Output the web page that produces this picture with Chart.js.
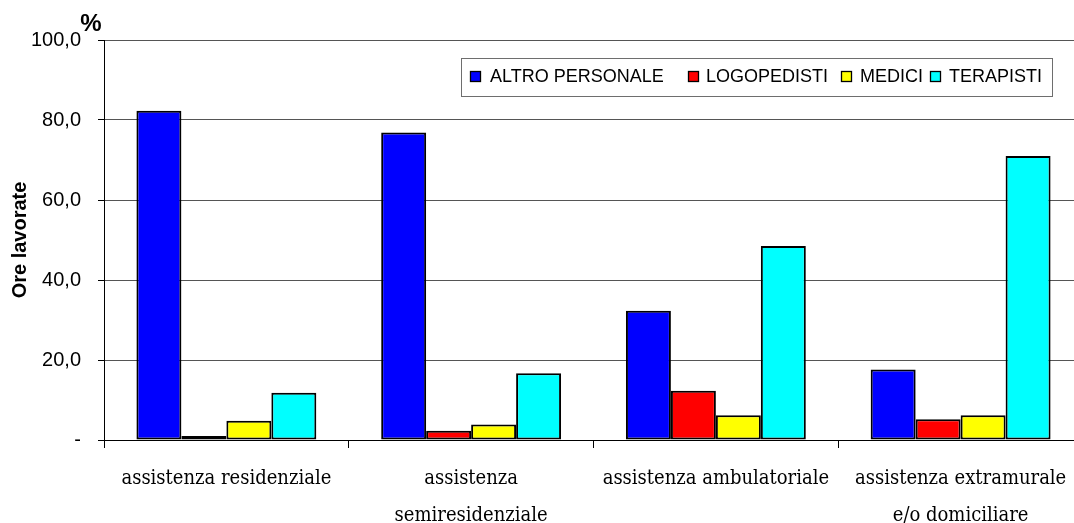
<!DOCTYPE html>
<html>
<head>
<meta charset="utf-8">
<script src="https://cdn.jsdelivr.net/npm/chart.js@4/dist/chart.umd.min.js"></script>
<style>
  html, body { margin: 0; padding: 0; background: #fff; overflow: hidden; }
  #wrap { width: 1090px; height: 523px; position: relative; }
</style>
</head>
<body>
<div id="wrap"><canvas id="c" width="1090" height="523"></canvas></div>
<script>
// Categories (multi-line labels) and series
const categories = [
  ['assistenza residenziale'],
  ['assistenza', 'semiresidenziale'],
  ['assistenza ambulatoriale'],
  ['assistenza extramurale', 'e/o domiciliare']
];
const seriesNames = ['ALTRO PERSONALE', 'LOGOPEDISTI', 'MEDICI', 'TERAPISTI'];
const altroPersonale = [82.3, 76.9, 32.3, 17.6];
const logopedisti    = [1.0, 2.3, 12.3, 5.2];
const medici         = [4.8, 3.9, 6.2, 6.2];
const terapisti      = [11.8, 16.7, 48.5, 71.0];
const yMin = 0, yMax = 100, yStep = 20;
const yTitle = 'Ore lavorate';
const unitMark = '%';

const colors = ['#0000FF', '#FF0000', '#FFFF00', '#00FFFF'];
const seriesValues = [altroPersonale, logopedisti, medici, terapisti];

// Boxed legend drawn inside the plot area, plus the unit mark above the axis
const extrasPlugin = {
  id: 'extras',
  afterDraw(chart) {
    const ctx = chart.ctx;
    ctx.save();
    // unit mark
    ctx.fillStyle = '#000';
    ctx.font = 'bold 24px "Liberation Sans", Arial, sans-serif';
    ctx.textAlign = 'center';
    ctx.textBaseline = 'middle';
    ctx.fillText(unitMark, 91, 24);

    // legend frame
    const bx = 461.5, by = 58.5, bw = 591, bh = 38;
    ctx.fillStyle = '#fff';
    ctx.fillRect(bx, by, bw, bh);
    ctx.strokeStyle = '#6e6e6e';
    ctx.lineWidth = 1;
    ctx.strokeRect(bx, by, bw, bh);

    // legend items
    const squareX = [470, 688, 841, 930];
    const textX = [490, 706, 860, 949];
    ctx.font = '18px "Liberation Sans", Arial, sans-serif';
    ctx.textAlign = 'left';
    ctx.textBaseline = 'middle';
    chart.data.datasets.forEach((ds, i) => {
      const sx = squareX[i];
      ctx.fillStyle = ds.backgroundColor;
      ctx.fillRect(sx + 0.5, 71.5, 10, 10);
      ctx.strokeStyle = '#000';
      ctx.lineWidth = 1.3;
      ctx.strokeRect(sx + 0.5, 71.5, 10, 10);
      ctx.fillStyle = '#000';
      ctx.fillText(ds.label, textX[i], 77);
    });
    ctx.restore();
  }
};

new Chart(document.getElementById('c'), {
  type: 'bar',
  data: {
    labels: categories,
    datasets: seriesNames.map((name, i) => ({
      label: name,
      data: seriesValues[i],
      backgroundColor: colors[i],
      borderColor: '#000',
      borderWidth: 2,
      borderSkipped: false
    }))
  },
  options: {
    responsive: false,
    devicePixelRatio: 1,
    animation: false,
    layout: { padding: { top: 40, right: 7, left: 0, bottom: 0 } },
    datasets: { bar: { categoryPercentage: 0.735, barPercentage: 1.0 } },
    plugins: {
      legend: { display: false },
      tooltip: { enabled: false }
    },
    scales: {
      x: {
        offset: true,
        grid: {
          display: true,
          offset: true,
          drawOnChartArea: false,
          drawTicks: true,
          tickLength: 8,
          color: '#000'
        },
        border: { display: true, color: '#000', width: 1 },
        ticks: {
          color: '#000',
          padding: 12,
          maxRotation: 0,
          autoSkip: false,
          font: { family: '"DejaVu Serif Condensed", "DejaVu Serif", "Liberation Serif", serif', size: 20, lineHeight: 1.85 }
        },
        afterFit(scale) { scale.height = 83; }
      },
      y: {
        min: yMin,
        max: yMax,
        grid: {
          color: '#555',
          lineWidth: 1,
          drawTicks: true,
          tickLength: 6,
          tickColor: '#000'
        },
        border: { display: true, color: '#000', width: 1 },
        ticks: {
          stepSize: yStep,
          color: '#000',
          padding: 17,
          font: { family: '"Liberation Sans", Arial, sans-serif', size: 20 },
          callback: (v) => v === 0 ? '-' : v.toFixed(1).replace('.', ',')
        },
        title: {
          display: true,
          text: yTitle,
          color: '#000',
          padding: { top: 8, bottom: 0 },
          font: { family: '"Liberation Sans", Arial, sans-serif', size: 20, weight: 'bold' }
        },
        afterFit(scale) { scale.width = 104; }
      }
    }
  },
  plugins: [extrasPlugin]
});
</script>
</body>
</html>
